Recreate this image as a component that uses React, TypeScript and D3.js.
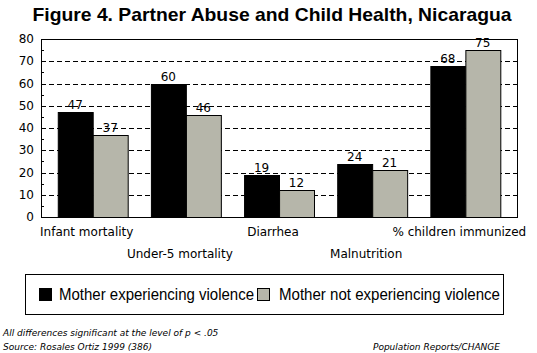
import React, { useRef, useEffect } from "react";
import * as d3 from "d3";

const width = 537;
const height = 353;

const categories = ["Infant mortality", "Under-5 mortality", "Diarrhea", "Malnutrition", "% children immunized"];
const seriesNames = ["Mother experiencing violence", "Mother not experiencing violence"];
const violence = [47, 60, 19, 24, 68];
const noViolence = [37, 46, 12, 21, 75];
const yTicks = [0, 10, 20, 30, 40, 50, 60, 70, 80];
const colors = ["#000000", "#b6b6aa"];

const plot = { left: 41, right: 517, top: 39, bottom: 217 };
const font = "'DejaVu Sans', sans-serif";

const App = () => {
  const ref = useRef<SVGSVGElement | null>(null);

  useEffect(() => {
    const svg = d3.select(ref.current);
    svg.selectAll("*").remove();
    svg.attr("width", width).attr("height", height).attr("viewBox", [0, 0, width, height].join(" "));

    svg.append("rect").attr("width", width).attr("height", height).attr("fill", "#fff");

    svg.append("text")
      .attr("x", 272)
      .attr("y", 21)
      .attr("text-anchor", "middle")
      .attr("font-family", "'Liberation Sans', sans-serif")
      .attr("font-weight", "bold")
      .attr("font-size", 19)
      .attr("textLength", 479)
      .attr("lengthAdjust", "spacingAndGlyphs")
      .text("Figure 4. Partner Abuse and Child Health, Nicaragua");

    const x = d3.scaleBand<string>()
      .domain(categories)
      .range([plot.left, plot.right])
      .paddingInner(0.25)
      .paddingOuter(0.18);

    const xs = d3.scaleBand<number>()
      .domain([0, 1])
      .range([0, x.bandwidth()]);

    const y = d3.scaleLinear().domain([0, 80]).range([plot.bottom, plot.top]);

    // dashed gridlines
    svg.append("g")
      .selectAll("line")
      .data(yTicks.filter((d) => d > 0 && d < 80))
      .join("line")
      .attr("x1", plot.left)
      .attr("x2", plot.right)
      .attr("y1", (d) => Math.round(y(d)) + 0.5)
      .attr("y2", (d) => Math.round(y(d)) + 0.5)
      .attr("stroke", "#000")
      .attr("stroke-dasharray", "5,3");

    // minor ticks
    svg.append("g")
      .selectAll("line")
      .data(d3.range(5, 80, 10))
      .join("line")
      .attr("x1", plot.left)
      .attr("x2", plot.left + 3)
      .attr("y1", (d) => Math.round(y(d)) + 0.5)
      .attr("y2", (d) => Math.round(y(d)) + 0.5)
      .attr("stroke", "#000");

    const rows = categories.map((c, i) => ({ c, vals: [violence[i], noViolence[i]] }));

    const groups = svg.append("g")
      .selectAll("g")
      .data(rows)
      .join("g")
      .attr("transform", (d) => `translate(${x(d.c)},0)`);

    groups.selectAll("rect")
      .data((d) => d.vals.map((v, k) => ({ v, k })))
      .join("rect")
      .attr("x", (d) => Math.round(xs(d.k)!) + 0.5)
      .attr("y", (d) => Math.round(y(d.v)) + 0.5)
      .attr("width", xs.bandwidth())
      .attr("height", (d) => Math.round(y(0)) - Math.round(y(d.v)))
      .attr("fill", (d) => colors[d.k])
      .attr("stroke", "#000");

    groups.selectAll("text")
      .data((d) => d.vals.map((v, k) => ({ v, k })))
      .join("text")
      .attr("x", (d) => xs(d.k)! + xs.bandwidth() / 2)
      .attr("y", (d) => y(d.v) - 3)
      .attr("text-anchor", "middle")
      .attr("font-family", font)
      .attr("font-size", 12)
      .text((d) => d.v);

    // frame
    svg.append("rect")
      .attr("x", plot.left + 0.5)
      .attr("y", plot.top + 0.5)
      .attr("width", plot.right - plot.left)
      .attr("height", plot.bottom - plot.top)
      .attr("fill", "none")
      .attr("stroke", "#000");

    // y axis labels
    svg.append("g")
      .selectAll("text")
      .data(yTicks)
      .join("text")
      .attr("x", 34)
      .attr("y", (d) => y(d))
      .attr("dy", "0.35em")
      .attr("text-anchor", "end")
      .attr("font-family", font)
      .attr("font-size", 12)
      .text((d) => d);

    // x labels, staggered
    svg.append("g")
      .selectAll("text")
      .data(categories)
      .join("text")
      .attr("x", (d) => x(d)! + x.bandwidth() / 2 - 6)
      .attr("y", (d, i) => (i % 2 === 0 ? 236 : 258))
      .attr("text-anchor", "middle")
      .attr("font-family", font)
      .attr("font-size", 12)
      .text((d) => d);

    // legend
    svg.append("rect")
      .attr("x", 25.5)
      .attr("y", 274.5)
      .attr("width", 478)
      .attr("height", 40)
      .attr("fill", "none")
      .attr("stroke", "#000");

    const legendX = [39, 257];
    const legendTextX = [59, 279];
    const legendTextW = [195, 221];
    const lg = svg.append("g")
      .selectAll("g")
      .data(seriesNames)
      .join("g");
    lg.append("rect")
      .attr("x", (d, i) => legendX[i] + 0.5)
      .attr("y", 288.5)
      .attr("width", 12)
      .attr("height", 12)
      .attr("fill", (d, i) => colors[i])
      .attr("stroke", "#000");
    lg.append("text")
      .attr("x", (d, i) => legendTextX[i])
      .attr("y", 300)
      .attr("font-family", "'Liberation Sans', sans-serif")
      .attr("font-size", 16)
      .attr("textLength", (d, i) => legendTextW[i])
      .attr("lengthAdjust", "spacingAndGlyphs")
      .text((d) => d);

    // footnotes
    const notes = svg.append("g")
      .attr("font-family", font)
      .attr("font-style", "italic")
      .attr("font-size", 9);
    notes.append("text").attr("x", 3).attr("y", 336).text("All differences significant at the level of p < .05");
    notes.append("text").attr("x", 3).attr("y", 350).text("Source: Rosales Ortiz 1999 (386)");
    notes.append("text").attr("x", 500).attr("y", 350).attr("text-anchor", "end").text("Population Reports/CHANGE");
  }, []);

  return (
    <div style={{ position: "absolute", left: 0, top: 0 }}>
      <svg ref={ref} style={{ display: "block" }} />
    </div>
  );
};

export default App;
